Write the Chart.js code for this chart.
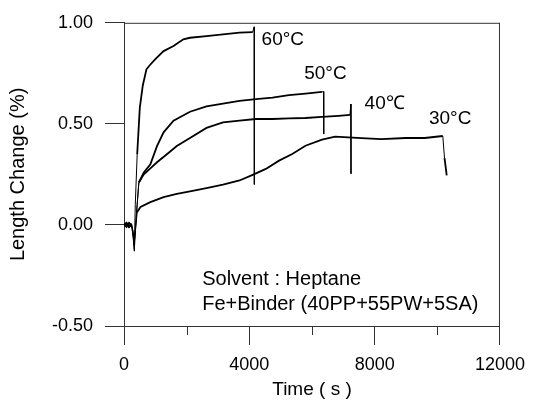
<!DOCTYPE html>
<html>
<head>
<meta charset="utf-8">
<script src="https://cdn.jsdelivr.net/npm/chart.js@4.4.0/dist/chart.umd.min.js"></script>
<style>
  html, body { margin: 0; padding: 0; background: #fff; }
  #wrap { width: 534px; height: 401px; }
</style>
</head>
<body>
<div id="wrap"><canvas id="lengthChart" width="534" height="401"></canvas></div>
<script>
// values (time in s, length change in %)
const time60 = [0, 80, 160, 240, 290, 330, 360, 421, 505, 600, 716, 822, 1000, 1264, 1580, 1895, 2106, 2633, 3159, 3686, 4107, 4155, 4160];
const len60  = [0, 0.01, -0.01, 0.005, -0.06, -0.13, 0.1, 0.35, 0.58, 0.69, 0.77, 0.79, 0.82, 0.86, 0.885, 0.918, 0.926, 0.934, 0.943, 0.951, 0.954, 0.98, 0.20];

const time50 = [0, 80, 160, 240, 290, 320, 360, 420, 474, 632, 842, 1053, 1264, 1580, 2106, 2633, 3159, 3686, 4212, 4739, 5265, 5792, 6318, 6371, 6375];
const len50  = [0, -0.01, 0.01, 0, -0.05, -0.1, -0.04, 0.1, 0.21, 0.26, 0.30, 0.39, 0.458, 0.516, 0.56, 0.586, 0.60, 0.614, 0.622, 0.63, 0.642, 0.65, 0.658, 0.66, 0.45];

const time40 = [0, 80, 160, 240, 290, 320, 360, 420, 474, 632, 842, 1053, 1369, 1685, 2106, 2633, 3159, 3686, 4212, 4739, 5265, 5792, 6318, 6845, 7213, 7240, 7245];
const len40  = [0, 0.01, -0.005, 0.005, -0.04, -0.08, -0.02, 0.1, 0.21, 0.25, 0.28, 0.31, 0.35, 0.39, 0.43, 0.48, 0.507, 0.516, 0.524, 0.524, 0.527, 0.529, 0.535, 0.54, 0.544, 0.598, 0.253];

const time30 = [0, 80, 160, 240, 290, 330, 370, 421, 527, 842, 1264, 1685, 2106, 2633, 3159, 3686, 4107, 4528, 4949, 5370, 5792, 6318, 6739, 7160, 7582, 8213, 9000, 9600, 10175, 10230, 10300];
const len30  = [0, 0.005, -0.01, 0, -0.03, -0.12, -0.02, 0.064, 0.089, 0.113, 0.138, 0.154, 0.166, 0.182, 0.199, 0.22, 0.248, 0.277, 0.318, 0.351, 0.392, 0.422, 0.437, 0.433, 0.429, 0.425, 0.43, 0.43, 0.44, 0.33, 0.245];

const seriesNames = ["60°C", "50°C", "40℃", "30°C"];
const xTicks = [0, 4000, 8000, 12000];
const xMinorTicks = [2000, 6000, 10000];
const yTicks = [-0.5, 0, 0.5, 1.0];

// text placed inside the plot, in data coordinates
const notes = [
  { text: seriesNames[0], x: 4392, y: 0.89, size: 19 },
  { text: seriesNames[1], x: 5751, y: 0.724, size: 19 },
  { text: seriesNames[2], x: 7679, y: 0.576, size: 19 },
  { text: seriesNames[3], x: 9733, y: 0.498, size: 19 },
  { text: "Solvent : Heptane", x: 2496, y: -0.296, size: 20 },
  { text: "Fe+Binder (40PP+55PW+5SA)", x: 2496, y: -0.419, size: 20 }
];

const FONT = "'Liberation Sans', Arial, sans-serif";

function pts(ts, vs) {
  return ts.map((t, i) => ({ x: t, y: vs[i] }));
}

const frame = {
  id: "frame",
  afterDraw(chart) {
    const { ctx, chartArea: a, scales } = chart;
    ctx.save();
    ctx.strokeStyle = "#333";
    ctx.lineWidth = 1;
    ctx.beginPath();
    ctx.moveTo(a.left, a.top + 0.5);
    ctx.lineTo(a.right, a.top + 0.5);
    ctx.moveTo(a.right - 0.5, a.top);
    ctx.lineTo(a.right - 0.5, a.bottom);
    // minor ticks on the time axis
    xMinorTicks.forEach(v => {
      const px = Math.round(scales.x.getPixelForValue(v)) + 0.5;
      ctx.moveTo(px, a.bottom);
      ctx.lineTo(px, a.bottom + 9);
    });
    ctx.stroke();

    ctx.fillStyle = "#000";
    ctx.textAlign = "left";
    ctx.textBaseline = "alphabetic";
    notes.forEach(n => {
      ctx.font = n.size + "px " + FONT;
      ctx.fillText(n.text, scales.x.getPixelForValue(n.x), scales.y.getPixelForValue(n.y));
    });
    ctx.restore();
  }
};

// the end-of-run drops are drawn as thin vertical strokes
const lineStyle = {
  borderColor: "#000",
  borderWidth: 1.8,
  pointRadius: 0,
  tension: 0,
  fill: false,
  segment: { borderWidth: c => (Math.abs(c.p1.x - c.p0.x) < 2 ? 1 : 1.8) }
};

new Chart(document.getElementById("lengthChart"), {
  type: "line",
  data: {
    datasets: [
      { label: seriesNames[0], data: pts(time60, len60), ...lineStyle },
      { label: seriesNames[1], data: pts(time50, len50), ...lineStyle },
      { label: seriesNames[2], data: pts(time40, len40), ...lineStyle },
      { label: seriesNames[3], data: pts(time30, len30), ...lineStyle }
    ]
  },
  options: {
    responsive: false,
    animation: false,
    layout: { padding: { top: 20, right: 30, left: 0, bottom: 0 } },
    plugins: { legend: { display: false }, tooltip: { enabled: false } },
    scales: {
      x: {
        type: "linear",
        min: 0,
        max: 12000,
        afterBuildTicks: s => { s.ticks = xTicks.map(v => ({ value: v })); },
        afterFit: s => { s.height = 75; },
        grid: { drawOnChartArea: false, drawTicks: true, tickLength: 19, color: "#333" },
        border: { color: "#333" },
        ticks: { color: "#000", font: { family: FONT, size: 18 }, padding: 9, maxRotation: 0, callback: v => String(v) },
        title: { display: true, text: "Time ( s )", color: "#000", font: { family: FONT, size: 19 }, padding: 0 }
      },
      y: {
        min: -0.5,
        max: 1.0,
        afterBuildTicks: s => { s.ticks = yTicks.map(v => ({ value: v })); },
        afterFit: s => { s.width = 124; },
        grid: { drawOnChartArea: false, drawTicks: true, tickLength: 19, color: "#333" },
        border: { color: "#333" },
        ticks: { color: "#000", font: { family: FONT, size: 18 }, padding: 12, callback: v => v.toFixed(2) },
        title: { display: true, text: "Length Change (%)", color: "#000", font: { family: FONT, size: 20 }, padding: { top: 6, bottom: 0 } }
      }
    }
  },
  plugins: [frame]
});
</script>
</body>
</html>
